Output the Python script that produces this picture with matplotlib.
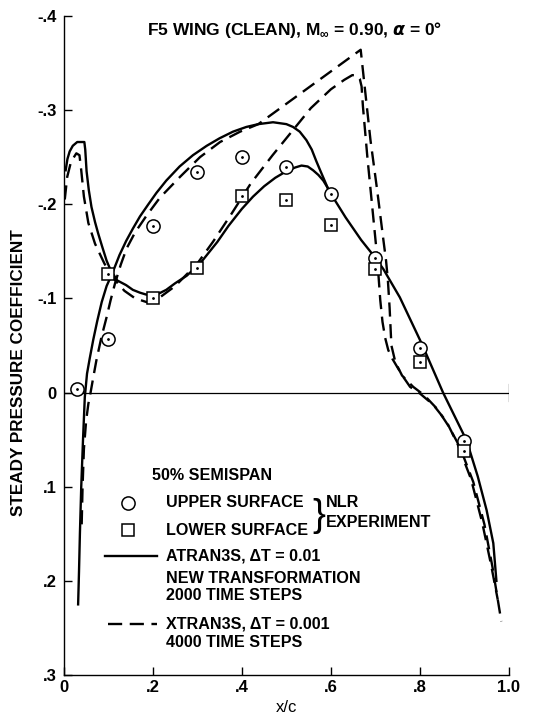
import matplotlib.pyplot as plt

plt.rcParams['font.family'] = ['Liberation Sans', 'DejaVu Sans']
plt.rcParams['font.weight'] = 'bold'
plt.rcParams['mathtext.fontset'] = 'custom'
plt.rcParams['mathtext.rm'] = 'Liberation Sans:bold'
plt.rcParams['mathtext.it'] = 'DejaVu Sans:italic'
plt.rcParams['mathtext.sf'] = 'DejaVu Sans'

# NLR experiment, 50% semispan
exp_x = [0.03, 0.1, 0.2, 0.3, 0.4, 0.5, 0.6, 0.7, 0.8, 0.9]
upper_cp = [-0.004, -0.057, -0.177, -0.234, -0.250, -0.240, -0.211, -0.143, -0.047, 0.052]
low_x = [0.1, 0.2, 0.3, 0.4, 0.5, 0.6, 0.7, 0.8, 0.9]
lower_cp = [-0.126, -0.100, -0.132, -0.209, -0.204, -0.178, -0.131, -0.032, 0.062]

# ATRAN3S, dT = 0.01
atran_up_x = [0.032, 0.034, 0.036, 0.039, 0.043, 0.047, 0.052, 0.058, 0.066, 0.075,
              0.085, 0.096, 0.11, 0.125, 0.14, 0.155, 0.171, 0.19, 0.208, 0.23,
              0.26, 0.29, 0.321, 0.35, 0.38, 0.41, 0.437, 0.47, 0.5, 0.515,
              0.53, 0.545, 0.557, 0.567, 0.575, 0.585, 0.594, 0.6, 0.633, 0.668,
              0.7, 0.718, 0.755, 0.804, 0.852, 0.905, 0.93, 0.95, 0.965, 0.972]
atran_up_cp = [0.225, 0.19, 0.15, 0.10, 0.05, 0.005, -0.02, -0.036, -0.056, -0.076,
               -0.096, -0.113, -0.128, -0.146, -0.161, -0.174, -0.187, -0.200, -0.212, -0.225,
               -0.240, -0.252, -0.262, -0.270, -0.277, -0.282, -0.285, -0.287, -0.285, -0.282,
               -0.277, -0.268, -0.258, -0.246, -0.237, -0.226, -0.216, -0.211, -0.186, -0.162,
               -0.143, -0.131, -0.101, -0.052, 0.0, 0.051, 0.089, 0.125, 0.16, 0.20]
atran_lo_x = [0.004, 0.008, 0.013, 0.02, 0.03, 0.046, 0.048, 0.051, 0.056, 0.062,
              0.07, 0.077, 0.086, 0.096, 0.105, 0.12, 0.14, 0.155, 0.171, 0.185,
              0.197, 0.213, 0.23, 0.25, 0.276, 0.306, 0.345, 0.37, 0.40, 0.425,
              0.45, 0.475, 0.5, 0.52, 0.534, 0.548, 0.56, 0.572, 0.583, 0.592, 0.6]
atran_lo_cp = [-0.236, -0.248, -0.256, -0.262, -0.266, -0.266, -0.258, -0.235, -0.215, -0.197,
               -0.181, -0.169, -0.155, -0.140, -0.130, -0.119, -0.114, -0.109, -0.106, -0.104,
               -0.103, -0.105, -0.109, -0.116, -0.124, -0.137, -0.160, -0.177, -0.195, -0.208,
               -0.219, -0.228, -0.235, -0.239, -0.241, -0.240, -0.236, -0.231, -0.225, -0.218, -0.211]

# XTRAN3S, dT = 0.001
xtran_up_x = [0.040, 0.042, 0.045, 0.05, 0.055, 0.06, 0.066, 0.073, 0.084, 0.096,
              0.105, 0.115, 0.128, 0.141, 0.16, 0.186, 0.216, 0.261, 0.306, 0.351,
              0.396, 0.437, 0.667, 0.675, 0.689, 0.704, 0.718, 0.724, 0.728, 0.732,
              0.736, 0.745, 0.76, 0.785, 0.81, 0.84, 0.865, 0.89, 0.92, 0.945, 0.963, 0.983]
xtran_up_cp = [0.14, 0.10, 0.06, 0.03, 0.012, 0.0, -0.016, -0.034, -0.058, -0.08,
               -0.098, -0.116, -0.136, -0.153, -0.170, -0.188, -0.207, -0.229, -0.25, -0.266,
               -0.277, -0.285, -0.364, -0.329, -0.268, -0.215, -0.162, -0.14, -0.12, -0.09,
               -0.05, -0.032, -0.018, -0.006, 0.003, 0.018, 0.036, 0.058, 0.095, 0.14, 0.185, 0.243]
xtran_lo_x = [0.002, 0.0075, 0.016, 0.028, 0.035, 0.039, 0.045, 0.055, 0.07, 0.091,
              0.11, 0.136, 0.16, 0.186, 0.21, 0.25, 0.3, 0.335, 0.377, 0.42,
              0.469, 0.512, 0.555, 0.6, 0.63, 0.648, 0.658, 0.665, 0.669, 0.672,
              0.682, 0.693, 0.704, 0.711, 0.716, 0.722, 0.729, 0.738, 0.748, 0.762,
              0.778, 0.80, 0.83, 0.86, 0.885, 0.915, 0.94, 0.96, 0.975]
xtran_lo_cp = [-0.205, -0.229, -0.245, -0.254, -0.252, -0.236, -0.208, -0.18, -0.158, -0.137,
               -0.122, -0.108, -0.1, -0.096, -0.099, -0.113, -0.137, -0.160, -0.190, -0.222,
               -0.252, -0.277, -0.302, -0.322, -0.332, -0.337, -0.337, -0.333, -0.325, -0.304,
               -0.250, -0.197, -0.144, -0.098, -0.075, -0.058, -0.045, -0.036, -0.028, -0.017,
               -0.006, 0.001, 0.013, 0.031, 0.055, 0.092, 0.138, 0.183, 0.22]

x_ticks = [0, 0.2, 0.4, 0.6, 0.8, 1.0]
x_labels = ['0', '.2', '.4', '.6', '.8', '1.0']
y_ticks = [-0.4, -0.3, -0.2, -0.1, 0, 0.1, 0.2, 0.3]
y_labels = ['-.4', '-.3', '-.2', '-.1', '0', '.1', '.2', '.3']

fig = plt.figure(figsize=(5.46, 7.2), dpi=100)
ax = fig.add_axes([0.117, 0.0625, 0.815, 0.9155])

dash = (0, (6, 3.2))
lw = 1.7
ax.plot(atran_up_x, atran_up_cp, 'k-', lw=lw)
ax.plot(atran_lo_x, atran_lo_cp, 'k-', lw=lw)
ax.plot(xtran_up_x, xtran_up_cp, color='k', ls=dash, lw=lw)
ax.plot(xtran_lo_x, xtran_lo_cp, color='k', ls=dash, lw=lw)

ax.plot(exp_x, upper_cp, 'o', ms=9.5, mfc='white', mec='k', mew=1.1, zorder=5)
ax.plot(low_x, lower_cp, 's', ms=8.5, mfc='white', mec='k', mew=1.1, zorder=5)
ax.plot(exp_x, upper_cp, 'k.', ms=2, zorder=6)
ax.plot(low_x, lower_cp, 'k.', ms=2, zorder=6)

# zero line with end tick
ax.plot([0, 1.0], [0, 0], 'k-', lw=0.9)
ax.plot([1.0, 1.0], [-0.009, 0.009], 'k-', lw=0.9)

ax.set_xlim(0, 1.0)
ax.set_ylim(0.3, -0.4)
ax.set_xticks(x_ticks)
ax.set_xticklabels(x_labels)
ax.set_yticks(y_ticks)
ax.set_yticklabels(y_labels)
ax.tick_params(direction='in', length=6, width=1, labelsize=12)
ax.tick_params(axis='y', pad=5)
for s in ['top', 'right']:
    ax.spines[s].set_visible(False)
for s in ['left', 'bottom']:
    ax.spines[s].set_linewidth(1)

fs = 11.6
ax.text(0.519, -0.385, r'F5 WING (CLEAN), M$_{\infty}$ = 0.90, $\alpha$ = 0°',
        ha='center', va='center', fontsize=12.5)

ax.set_xlabel('x/c', fontsize=12, labelpad=4)
fig.text(0.033, 0.482, 'STEADY PRESSURE COEFFICIENT', rotation=90,
         ha='center', va='center', fontsize=12.3)

# key
ax.text(0.198, 0.088, '50% SEMISPAN', fontsize=fs, va='center')
ax.plot([0.144], [0.117], 'o', ms=9.5, mfc='white', mec='k', mew=1.1)
ax.plot([0.144], [0.146], 's', ms=8.5, mfc='white', mec='k', mew=1.1)
ax.text(0.229, 0.117, 'UPPER SURFACE', fontsize=fs, va='center')
ax.text(0.229, 0.147, 'LOWER SURFACE', fontsize=fs, va='center')
ax.text(0.573, 0.131, '}', fontsize=28, fontweight='normal', va='center', ha='center')
ax.text(0.589, 0.117, 'NLR', fontsize=fs, va='center')
ax.text(0.589, 0.138, 'EXPERIMENT', fontsize=fs, va='center')

ax.plot([0.092, 0.209], [0.174, 0.174], 'k-', lw=lw)
ax.text(0.229, 0.174, 'ATRAN3S, ΔT = 0.01', fontsize=fs, va='center')
ax.text(0.229, 0.197, 'NEW TRANSFORMATION', fontsize=fs, va='center')
ax.text(0.229, 0.216, '2000 TIME STEPS', fontsize=fs, va='center')

ax.plot([0.099, 0.209], [0.246, 0.246], color='k', ls=dash, lw=lw)
ax.text(0.229, 0.246, 'XTRAN3S, ΔT = 0.001', fontsize=fs, va='center')
ax.text(0.229, 0.266, '4000 TIME STEPS', fontsize=fs, va='center')

fig.savefig('out.png', dpi=100)
